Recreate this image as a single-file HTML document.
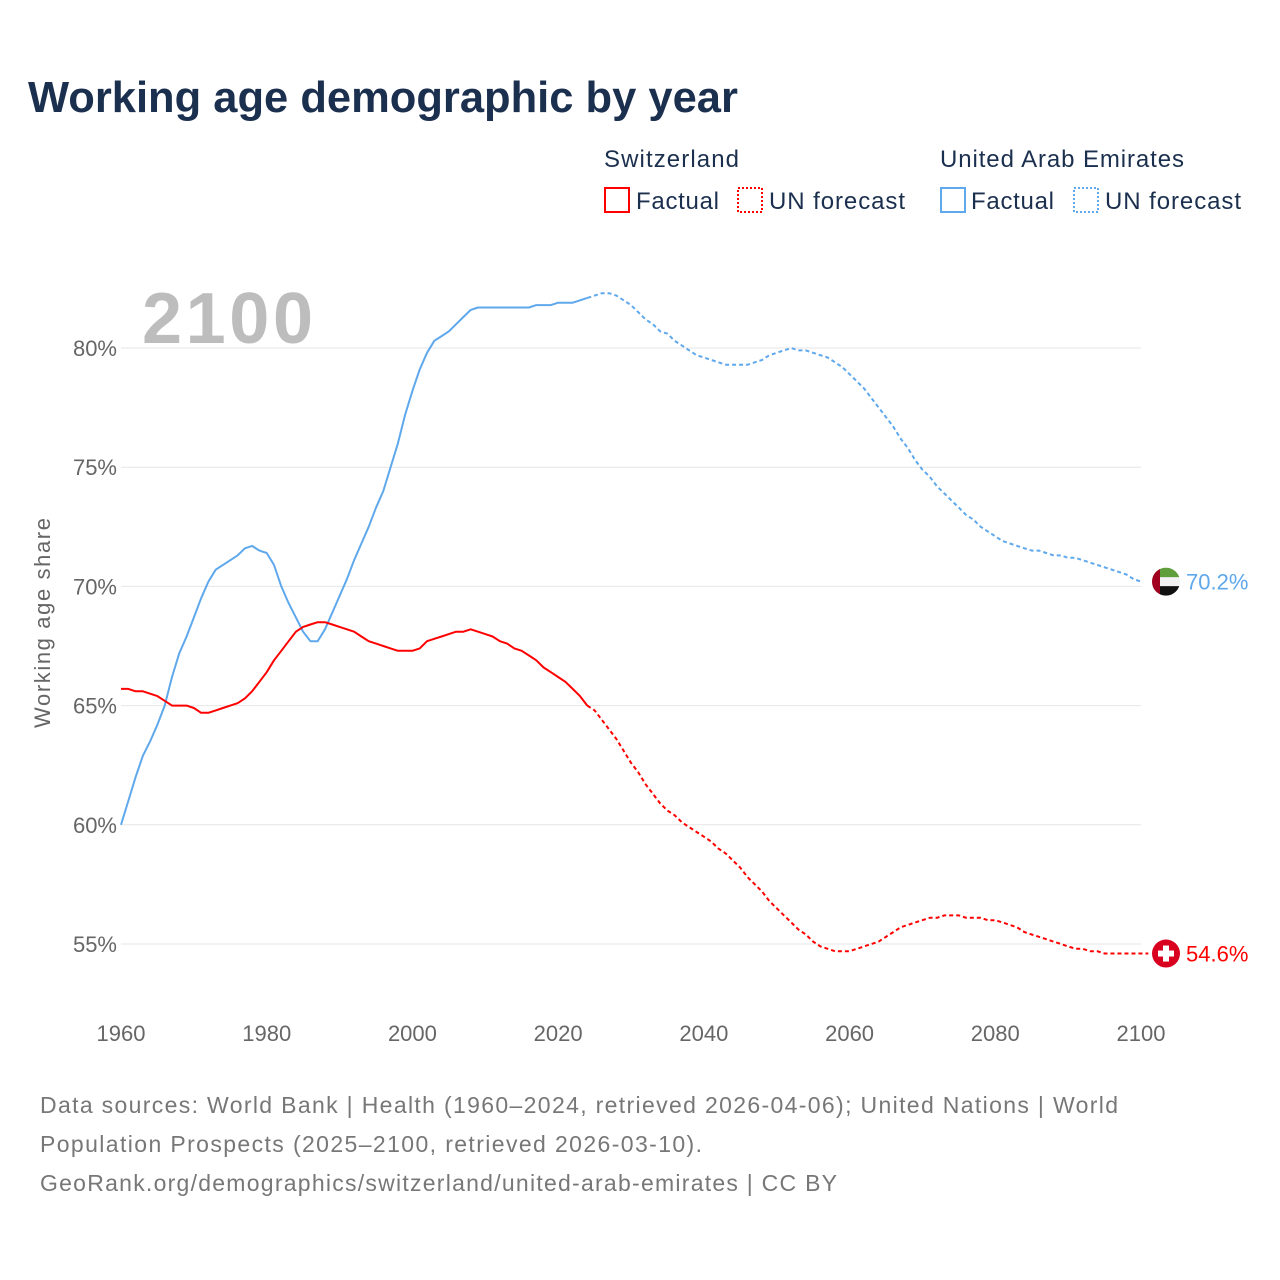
<!DOCTYPE html>
<html><head><meta charset="utf-8"><style>
html,body{margin:0;padding:0;background:#fff;width:1280px;height:1280px;overflow:hidden}
svg{display:block;font-family:"Liberation Sans",sans-serif}
</style></head><body>
<svg id="chart" width="1280" height="1280" viewBox="0 0 1280 1280">
<text x="28" y="112" font-size="43.5" font-weight="bold" fill="#1b2f4e">Working age demographic by year</text>
<g font-size="24" fill="#1b2f4e">
<text x="604" y="167" textLength="135">Switzerland</text>
<rect x="605" y="188" width="24" height="24" fill="none" stroke="#ff0000" stroke-width="2"/>
<text x="636" y="209" textLength="83">Factual</text>
<rect x="738" y="188" width="24" height="24" fill="none" stroke="#ff0000" stroke-width="2" stroke-dasharray="2,2"/>
<text x="769" y="209" textLength="136">UN forecast</text>
<text x="940" y="167" textLength="244">United Arab Emirates</text>
<rect x="941" y="188" width="24" height="24" fill="none" stroke="#5fa8ec" stroke-width="2"/>
<text x="971" y="209" textLength="83">Factual</text>
<rect x="1074" y="188" width="24" height="24" fill="none" stroke="#5fa8ec" stroke-width="2" stroke-dasharray="2,2"/>
<text x="1105" y="209" textLength="136">UN forecast</text>
</g>
<text x="142" y="343" font-size="72" font-weight="bold" fill="#bdbdbd" textLength="171">2100</text>
<text transform="translate(50,623) rotate(-90)" text-anchor="middle" font-size="22" fill="#666" textLength="210">Working age share</text>
<g id="grid"></g><g id="series"></g><g id="labels"></g>
<g font-size="23" fill="#777">
<text x="40" y="1113" textLength="1078">Data sources: World Bank | Health (1960–2024, retrieved 2026-04-06); United Nations | World</text>
<text x="40" y="1152" textLength="662">Population Prospects (2025–2100, retrieved 2026-03-10).</text>
<text x="40" y="1191" textLength="797">GeoRank.org/demographics/switzerland/united-arab-emirates | CC BY</text>
</g>
</svg>
<script>
const yTicks=[55,60,65,70,75,80];
const xTicks=[1960,1980,2000,2020,2040,2060,2080,2100];
const factualStart=1960;
const forecastStart=2024;
const uaeFactual=[60.0,61.0,62.0,62.9,63.5,64.2,65.0,66.2,67.2,67.9,68.7,69.5,70.2,70.7,70.9,71.1,71.3,71.6,71.7,71.5,71.4,70.9,70.0,69.3,68.7,68.1,67.7,67.7,68.2,68.9,69.6,70.3,71.1,71.8,72.5,73.3,74.0,75.0,76.0,77.2,78.2,79.1,79.8,80.3,80.5,80.7,81.0,81.3,81.6,81.7,81.7,81.7,81.7,81.7,81.7,81.7,81.7,81.8,81.8,81.8,81.9,81.9,81.9,82.0,82.1];
const uaeForecast=[82.1,82.2,82.3,82.3,82.2,82.0,81.8,81.5,81.2,81.0,80.7,80.6,80.3,80.1,79.9,79.7,79.6,79.5,79.4,79.3,79.3,79.3,79.3,79.4,79.5,79.7,79.8,79.9,80.0,79.9,79.9,79.8,79.7,79.6,79.4,79.2,78.9,78.6,78.3,77.9,77.5,77.1,76.7,76.2,75.8,75.3,74.9,74.6,74.2,73.9,73.6,73.3,73.0,72.8,72.5,72.3,72.1,71.9,71.8,71.7,71.6,71.5,71.5,71.4,71.3,71.3,71.2,71.2,71.1,71.0,70.9,70.8,70.7,70.6,70.5,70.3,70.2];
const chFactual=[65.7,65.7,65.6,65.6,65.5,65.4,65.2,65.0,65.0,65.0,64.9,64.7,64.7,64.8,64.9,65.0,65.1,65.3,65.6,66.0,66.4,66.9,67.3,67.7,68.1,68.3,68.4,68.5,68.5,68.4,68.3,68.2,68.1,67.9,67.7,67.6,67.5,67.4,67.3,67.3,67.3,67.4,67.7,67.8,67.9,68.0,68.1,68.1,68.2,68.1,68.0,67.9,67.7,67.6,67.4,67.3,67.1,66.9,66.6,66.4,66.2,66.0,65.7,65.4,65.0];
const chForecast=[65.0,64.8,64.4,64.0,63.6,63.1,62.6,62.2,61.7,61.3,60.9,60.6,60.4,60.1,59.9,59.7,59.5,59.3,59.0,58.8,58.5,58.2,57.8,57.5,57.2,56.8,56.5,56.2,55.9,55.6,55.4,55.1,54.9,54.8,54.7,54.7,54.7,54.8,54.9,55.0,55.1,55.3,55.5,55.7,55.8,55.9,56.0,56.1,56.1,56.2,56.2,56.2,56.1,56.1,56.1,56.0,56.0,55.9,55.8,55.7,55.5,55.4,55.3,55.2,55.1,55.0,54.9,54.8,54.8,54.7,54.7,54.6,54.6,54.6,54.6,54.6,54.6,54.6];
const NS="http://www.w3.org/2000/svg";
const X=y=>121+(y-1960)*(1020/140);
const Y=v=>944-(v-55)*23.84;
function mk(tag,attrs,parent){const e=document.createElementNS(NS,tag);for(const k in attrs)e.setAttribute(k,attrs[k]);parent.appendChild(e);return e;}
const grid=document.getElementById('grid');
yTicks.forEach(t=>{
 const l=mk('line',{x1:121,x2:1141,y1:Y(t),y2:Y(t),stroke:'#e6e6e6','stroke-width':1},grid);
 
 
 const tx=mk('text',{x:117,y:Y(t)+8,'text-anchor':'end','font-size':22,fill:'#666'},grid);
 tx.textContent=t+'%';
 
 
});
xTicks.forEach(t=>{
 const tx=mk('text',{x:X(t),y:1041,'text-anchor':'middle','font-size':22,fill:'#666'},grid);
 tx.textContent=t;
 
 
});
const ser=document.getElementById('series');
function line(arr,start,color,dash,name){
 const d=arr.map((v,i)=>(i?'L':'M')+X(start+i).toFixed(1)+','+Y(v).toFixed(1)).join('');
 const p=mk('path',{d:d,fill:'none',stroke:color,'stroke-width':2,'stroke-dasharray':dash||'none','stroke-linejoin':'round'},ser);
 
 
}
line(uaeFactual,factualStart,'#5fa8ec',null,'uae-factual-line');
line(uaeForecast,forecastStart,'#5fa8ec','4,3','uae-forecast-line');
line(chFactual,factualStart,'#ff0000',null,'switzerland-factual-line');
line(chForecast,forecastStart,'#ff0000','4,3','switzerland-forecast-line');
const lab=document.getElementById('labels');
const uLast=uaeForecast[uaeForecast.length-1], cLast=chForecast[chForecast.length-1];
const fu=mk('g',{},lab);


const uy=Y(uLast);
const cp=mk('clipPath',{id:'cu'},fu);
mk('circle',{cx:1166,cy:uy,r:14},cp);
const gu=mk('g',{'clip-path':'url(#cu)'},fu);
mk('rect',{x:1152,y:uy-14,width:28,height:10,fill:'#5f9e3a'},gu);
mk('rect',{x:1152,y:uy-4.5,width:28,height:9,fill:'#f2f2f2'},gu);
mk('rect',{x:1152,y:uy+4.5,width:28,height:10,fill:'#111'},gu);
mk('rect',{x:1152,y:uy-14,width:8,height:28,fill:'#a0001e'},gu);
const tu=mk('text',{x:1186,y:uy+8,'font-size':22,fill:'#5fa8ec'},lab);
tu.textContent=uLast.toFixed(1)+'%';


const cy=Y(cLast);
const fc=mk('g',{},lab);


mk('circle',{cx:1166,cy:cy,r:14,fill:'#d8001e'},fc);
mk('rect',{x:1163,y:cy-8,width:6,height:16,fill:'#fff'},fc);
mk('rect',{x:1158,y:cy-3,width:16,height:6,fill:'#fff'},fc);
const tc=mk('text',{x:1186,y:cy+8,'font-size':22,fill:'#ff0000'},lab);
tc.textContent=cLast.toFixed(1)+'%';


</script>
</body></html>
